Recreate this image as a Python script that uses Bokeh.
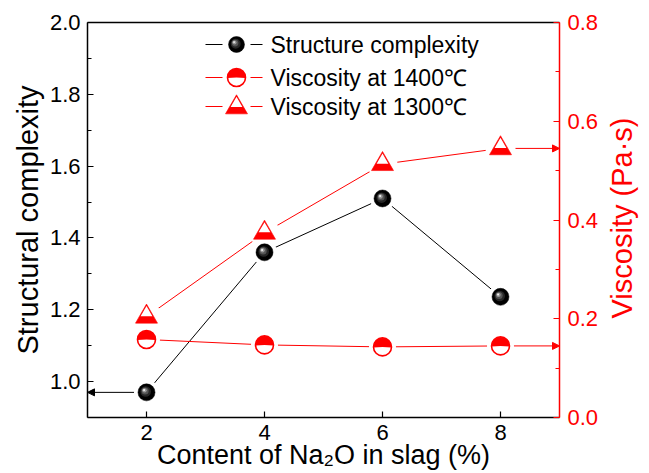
import math
from bokeh.plotting import figure
from bokeh.models import (Range1d, LinearAxis, FixedTicker, PrintfTickFormatter,
                          Arrow, NormalHead, Label)
from bokeh.embed import file_html
from bokeh.resources import INLINE
from bokeh.core.properties import value

# ---------------- data ----------------
na2o = [2, 4, 6, 8]
complexity = [0.97, 1.36, 1.51, 1.236]
visc_1400 = [0.158, 0.147, 0.143, 0.145]
visc_1300 = [0.204, 0.374, 0.513, 0.545]

x_ticks = [2, 4, 6, 8]
left_ticks = [1.0, 1.2, 1.4, 1.6, 1.8, 2.0]
left_minor = [0.9, 1.1, 1.3, 1.5, 1.7, 1.9]
right_ticks = [0.0, 0.2, 0.4, 0.6, 0.8]
right_minor = [0.1, 0.3, 0.5, 0.7]
legend_labels = ["Structure complexity", "Viscosity at 1400\u2103", "Viscosity at 1300\u2103"]
x_label = "Content of Na\u2082O in slag (%)"
y_label = "Structural complexity"
y2_label = "Viscosity (Pa\u00b7s)"

# ---------------- layout / style ----------------
FW, FH = 472, 395
X0, X1 = 1, 9
YL0, YL1 = 0.9, 2.0
YR0, YR1 = 0.0, 0.8
RED = "#FF0000"
FONT = "Liberation Sans"

p = figure(width=649, height=473, x_range=Range1d(X0, X1), y_range=Range1d(YL0, YL1),
           output_backend="svg", toolbar_location=None,
           min_border_left=87, min_border_right=90, min_border_top=22, min_border_bottom=56)
p.extra_y_ranges = {"visc": Range1d(YR0, YR1), "ly": Range1d(0, FH)}
p.extra_x_ranges = {"lx": Range1d(0, FW)}
p.grid.visible = False
p.outline_line_color = None
p.background_fill_color = "white"
p.border_fill_color = "white"

xa = p.xaxis[0]
xa.ticker = FixedTicker(ticks=x_ticks, minor_ticks=[])
xa.axis_label = x_label

ya = p.yaxis[0]
ya.ticker = FixedTicker(ticks=left_ticks, minor_ticks=left_minor)
ya.formatter = PrintfTickFormatter(format="%.1f")
ya.axis_label = y_label

ra = LinearAxis(y_range_name="visc", ticker=FixedTicker(ticks=right_ticks, minor_ticks=right_minor),
                formatter=PrintfTickFormatter(format="%.1f"))
p.add_layout(ra, "right")

ta = LinearAxis(ticker=FixedTicker(ticks=[], minor_ticks=[]))
p.add_layout(ta, "above")

for ax, col in [(xa, "black"), (ya, "black"), (ra, RED), (ta, "black")]:
    ax.axis_line_color = col
    ax.axis_line_width = 1.5
    ax.major_tick_line_color = col
    ax.minor_tick_line_color = col
    ax.major_tick_line_width = 1.2
    ax.minor_tick_line_width = 1.2
    ax.major_tick_in = 6
    ax.major_tick_out = 0
    ax.minor_tick_in = 4
    ax.minor_tick_out = 0
    ax.major_label_text_color = col
    ax.major_label_text_font = FONT
    ax.major_label_text_font_size = "22px"
    ax.axis_label_text_color = col
    ax.axis_label_text_font = FONT
    ax.axis_label_text_font_style = "normal"
    ax.major_label_standoff = 7

ta.major_label_text_font_size = "0px"
xa.axis_label_text_font_size = "27px"
xa.axis_label_standoff = -3
ya.axis_label_text_font_size = "29px"
ya.axis_label_standoff = 3
ra.major_label_standoff = 8

# right axis title: a rotated label in its own side panel (reads bottom-to-top)
p.add_layout(Label(x=20, y=FH / 2 + 2, x_units="screen", y_units="screen", text=y2_label,
                   angle=math.pi / 2, text_align="center", text_baseline="middle",
                   text_color=RED, text_font=FONT, text_font_size="29px"), "right")

# px -> data conversions
DX = (X1 - X0) / FW
DYL = (YL1 - YL0) / FH
DYR = (YR1 - YR0) / FH

p.add_layout(Arrow(end=NormalHead(size=7, fill_color="black", line_color="black", line_width=1),
                   x_start=na2o[0], y_start=complexity[0], x_end=X0, y_end=complexity[0],
                   line_color="black", line_width=1, level="underlay"))
for vals in (visc_1400, visc_1300):
    p.add_layout(Arrow(end=NormalHead(size=7, fill_color=RED, line_color=RED, line_width=1),
                       x_start=na2o[-1], y_start=vals[-1], x_end=X1, y_end=vals[-1],
                       line_color=RED, line_width=1, level="underlay", y_range_name="visc"))

def ball(xs, ys, dx, dy, xr="default", yr="default", s=17):
    kw = dict(x_range_name=xr, y_range_name=yr)
    p.scatter(xs, ys, size=s, fill_color="black", line_color="black", line_width=0.5, **kw)
    layers = [(0.62, "#262626", 0.8), (0.42, "#555555", 1.4), (0.26, "#999999", 2.0), (0.12, "#f2f2f2", 2.4)]
    for frac, c, off in layers:
        p.scatter([x - off * dx for x in xs], [y + off * dy for y in ys], size=s * frac,
                  fill_color=c, line_color=None, **kw)

def halfcircle(xs, ys, xr="default", yr="default", s=18):
    kw = dict(x_range_name=xr, y_range_name=yr)
    p.scatter(xs, ys, size=s, fill_color="white", line_color=None, **kw)
    p.wedge(xs, ys, radius=s / 2, radius_units="screen", start_angle=-0.06, end_angle=math.pi + 0.06,
            fill_color=RED, line_color=None, **kw)
    p.scatter(xs, ys, size=s, fill_color=None, line_color=RED, line_width=1.6, **kw)

def halftri(xs, ys, dy, xr="default", yr="default", s=22):
    kw = dict(x_range_name=xr, y_range_name=yr)
    r = s / 2
    h = r * math.sqrt(3)
    band = 0.36 * h
    apex_in = 2 * h / 3 - 2.0
    base_in = band - h / 3
    inner_h = apex_in - base_in
    r2 = inner_h / math.sqrt(3)
    c2 = base_in + inner_h / 3
    p.scatter(xs, ys, size=s, marker="triangle", fill_color=RED, line_color=RED, line_width=0.6, **kw)
    p.scatter(xs, [y + c2 * dy for y in ys], size=2 * r2, marker="triangle",
              fill_color="white", line_color=None, **kw)

p.line(na2o, complexity, line_color="black", line_width=1)
p.line(na2o, visc_1400, line_color=RED, line_width=1, y_range_name="visc")
p.line(na2o, visc_1300, line_color=RED, line_width=1, y_range_name="visc")

p.scatter(na2o, complexity, size=25, fill_color="white", line_color=None)
p.scatter(na2o, visc_1400, size=27, fill_color="white", line_color=None, y_range_name="visc")
p.scatter(na2o, visc_1300, size=30, fill_color="white", line_color=None, y_range_name="visc")

ball(na2o, complexity, DX, DYL)
halfcircle(na2o, visc_1400, yr="visc")
halftri(na2o, visc_1300, DYR, yr="visc")

LEG_X = 149
LEG_Y = [373, 340, 311]
SEG = [(118, 135), (163, 175)]
LEG_TX = 183
cols = ["black", RED, RED]
for yy, c in zip(LEG_Y, cols):
    for a, b in SEG:
        p.line([a, b], [yy, yy], line_color=c, line_width=1, x_range_name="lx", y_range_name="ly")
ball([LEG_X], [LEG_Y[0]], 1, 1, xr="lx", yr="ly", s=16)
halfcircle([LEG_X], [LEG_Y[1]], xr="lx", yr="ly", s=18)
halftri([LEG_X], [LEG_Y[2] - 1], 1, xr="lx", yr="ly", s=22)
p.text([LEG_TX] * 3, LEG_Y, text=legend_labels, text_font=value(FONT), text_font_size="23px",
       text_baseline="middle", text_align="left", text_color="black",
       x_range_name="lx", y_range_name="ly")

open("out.html", "w").write(file_html(p, INLINE))
